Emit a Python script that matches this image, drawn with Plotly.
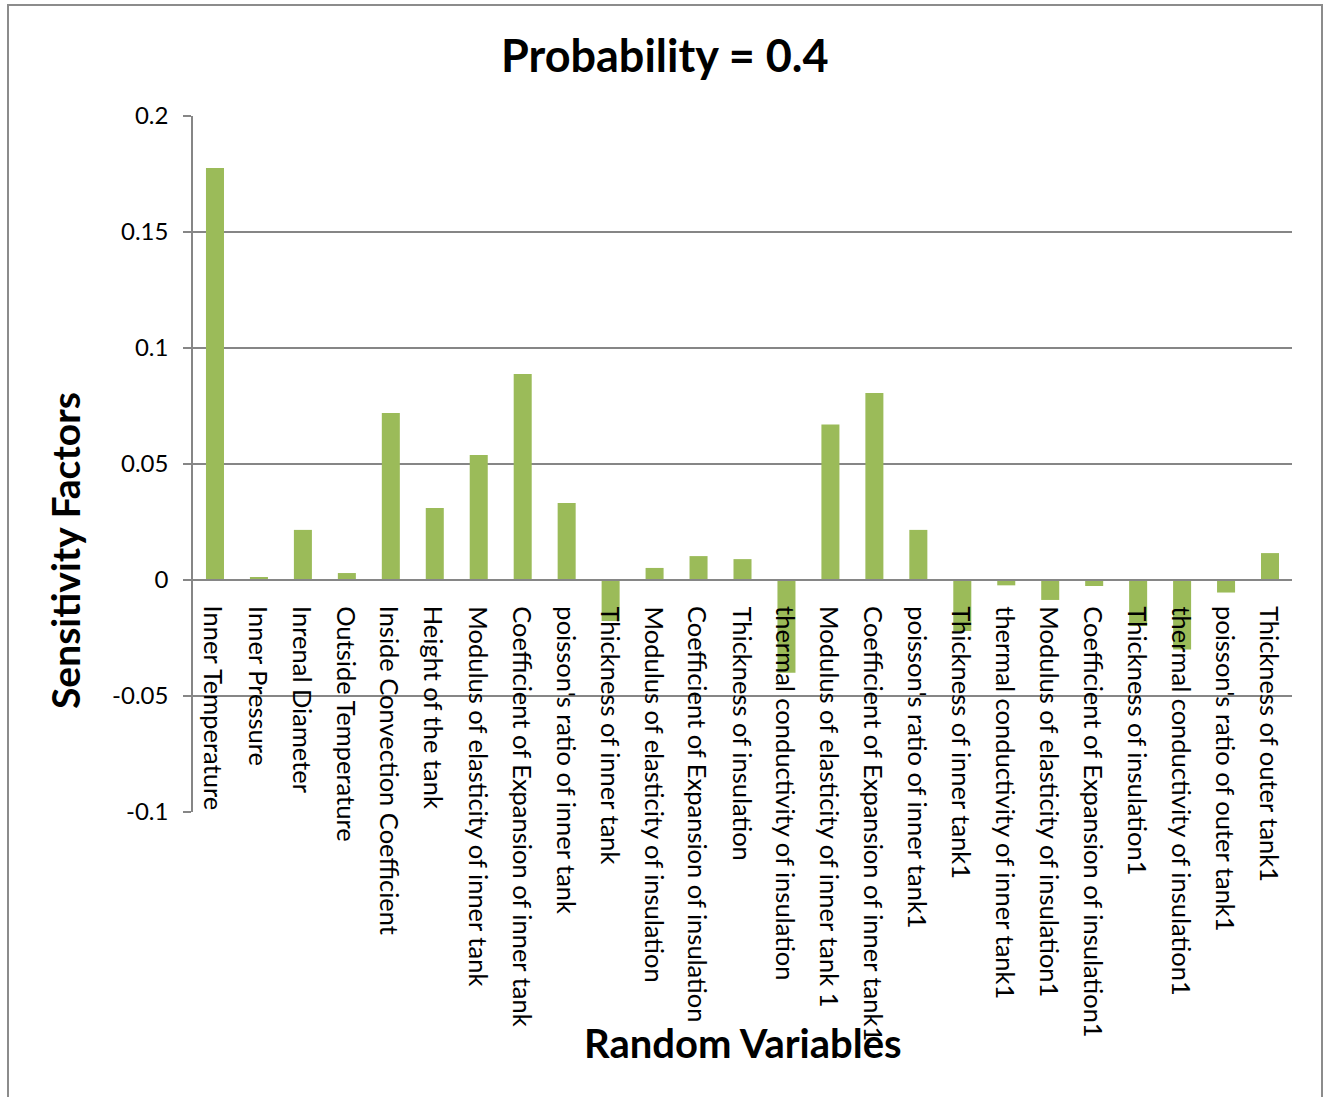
import plotly.graph_objects as go

categories = [
    "Inner Temperature", "Inner Pressure", "Inrenal Diameter", "Outside Temperature",
    "Inside Convection Coefficient", "Height of the tank", "Modulus of elasticity of inner tank",
    "Coefficient of Expansion of inner tank", "poisson's ratio of inner tank",
    "Thickness of inner tank", "Modulus of elasticity of insulation",
    "Coefficient of Expansion of insulation", "Thickness of insulation",
    "thermal conductivity of insulation", "Modulus of elasticity of inner tank 1",
    "Coefficient of Expansion of inner tank1", "poisson's ratio of inner tank1",
    "Thickness of inner tank1", "thermal conductivity of inner tank1",
    "Modulus of elasticity of insulation1", "Coefficient of Expansion of insulation1",
    "Thickness of insulation1", "thermal conductivity of insulation1",
    "poisson's ratio of outer tank1", "Thickness of outer tank1",
]
values = [
    0.1776, 0.0013, 0.0216, 0.0030, 0.0720, 0.0310, 0.0539, 0.0888, 0.0332,
    -0.0177, 0.0052, 0.0103, 0.0090, -0.0400, 0.0670, 0.0806, 0.0216,
    -0.0220, -0.0023, -0.0086, -0.0026, -0.0198, -0.0300, -0.0054, 0.0116,
]
y_ticks = [-0.1, -0.05, 0, 0.05, 0.1, 0.15, 0.2]
y_tick_text = ["-0.1", "-0.05", "0", "0.05", "0.1", "0.15", "0.2"]

FONT = "Lato"
W, H = 1328, 1097
L, R, T, B = 193, 36, 116, 285
pw, ph = W - L - R, H - T - B

fig = go.Figure()
fig.add_trace(go.Bar(x=categories, y=values, marker=dict(color="#9BBB59", line=dict(width=0)),
                     width=0.41))

annotations = []
for c in categories:
    annotations.append(dict(x=c, y=0, xref="x", yref="y", text=c, textangle=90,
                            showarrow=False, xanchor="center", yanchor="top", yshift=-24,
                            font=dict(family=FONT, size=25.5, color="#000000")))

def px_x(p):
    return (p - L) / pw

def px_y(p):
    return (H - B - p) / ph

annotations.append(dict(x=px_x(665), y=px_y(55), xref="paper", yref="paper",
                        xanchor="center", yanchor="middle",
                        text="<b>Probability = 0.4</b>", showarrow=False,
                        font=dict(family=FONT, size=45, color="#000000")))
annotations.append(dict(x=px_x(743), y=px_y(1043), xref="paper", yref="paper",
                        xanchor="center", yanchor="middle",
                        text="<b>Random Variables</b>", showarrow=False,
                        font=dict(family=FONT, size=40, color="#000000")))
annotations.append(dict(x=px_x(65), y=px_y(551), xref="paper", yref="paper",
                        xanchor="center", yanchor="middle",
                        text="<b>Sensitivity Factors</b>", showarrow=False, textangle=-90,
                        font=dict(family=FONT, size=39, color="#000000")))

shapes = [
    dict(type="rect", xref="paper", yref="paper", x0=px_x(8), x1=px_x(1322),
         y0=px_y(1100), y1=px_y(5), line=dict(color="#8C8C8C", width=2), layer="below"),
    dict(type="line", xref="paper", yref="y", x0=0, x1=1, y0=0, y1=0,
         line=dict(color="#868686", width=2)),
]

fig.update_layout(
    width=W, height=H,
    margin=dict(l=L, r=R, t=T, b=B),
    paper_bgcolor="white", plot_bgcolor="white",
    showlegend=False,
    annotations=annotations,
    shapes=shapes,
    font=dict(family=FONT, size=24, color="#000000"),
    xaxis=dict(showticklabels=False, showgrid=False, zeroline=False, showline=False,
               ticks=""),
    yaxis=dict(range=[-0.1, 0.2], tickvals=y_ticks, ticktext=y_tick_text,
               showgrid=True, gridcolor="#868686", gridwidth=1.5,
               zeroline=False, showline=True, linecolor="#868686", linewidth=1.5,
               ticks="outside", ticklen=8, tickcolor="#868686", tickwidth=1.5,
               ticklabelstandoff=10,
               tickfont=dict(family=FONT, size=24, color="#000000")),
)

fig.write_html("out.html", config={"displayModeBar": False},
               post_script="document.body.style.margin='0px';")
